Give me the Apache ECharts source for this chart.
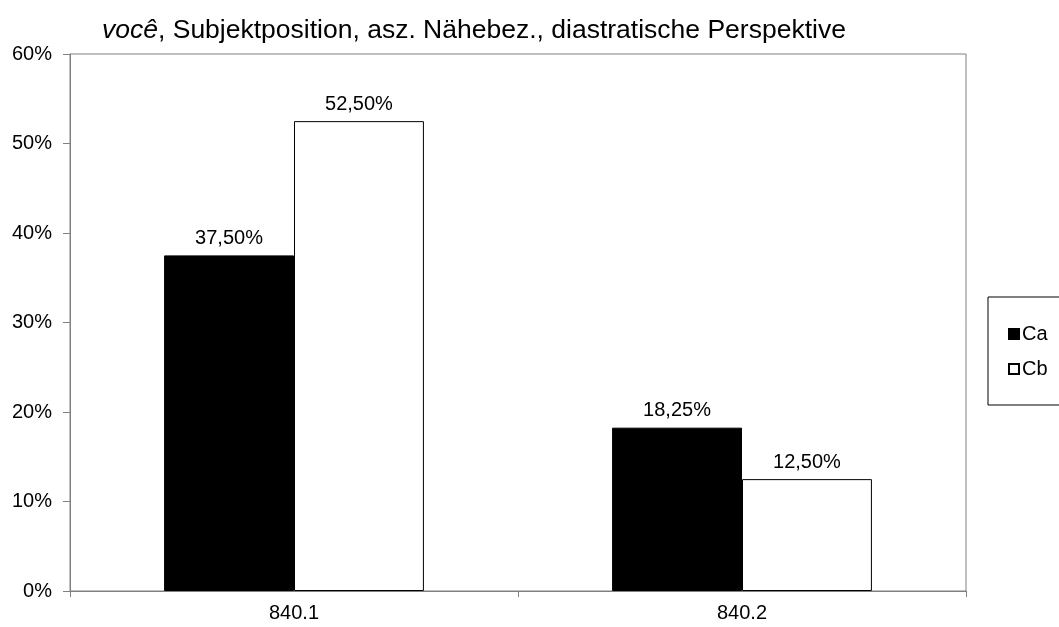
<!DOCTYPE html>
<html>
<head>
<meta charset="utf-8">
<script src="https://cdn.jsdelivr.net/npm/echarts@6/dist/echarts.min.js"></script>
<style>
  html, body { margin: 0; padding: 0; background: #fff; }
  #chart { width: 1059px; height: 627px; }
</style>
</head>
<body>
<div id="chart"></div>
<script>
// Categories and shares (in percent) per group
const categories = ['840.1', '840.2'];
const seriesNames = ['Ca', 'Cb'];
const valuesCa = [37.5, 18.25];
const valuesCb = [52.5, 12.5];
const yTicks = [0, 10, 20, 30, 40, 50, 60];

const FONT = 'Liberation Sans, Arial, sans-serif';
const fmtPct = v => v.toFixed(2).replace('.', ',') + '%';

const chart = echarts.init(document.getElementById('chart'));

const labelStyle = {
  show: true,
  position: 'top',
  distance: 7,
  color: '#000',
  fontFamily: FONT,
  fontSize: 20,
  formatter: p => fmtPct(p.value)
};

chart.setOption({
  animation: false,
  backgroundColor: '#fff',
  title: {
    left: 97,
    top: 12,
    text: '{i|você}, Subjektposition, asz. Nähebez., diastratische Perspektive',
    textStyle: {
      fontFamily: FONT,
      fontSize: 26.5,
      fontWeight: 'normal',
      color: '#000',
      rich: {
        i: { fontFamily: FONT, fontSize: 26.5, fontStyle: 'italic', color: '#000' }
      }
    }
  },
  legend: {
    orient: 'vertical',
    left: 988,
    top: 297,
    padding: [27, 40, 26, 20],
    itemGap: 15,
    itemWidth: 10,
    itemHeight: 10,
    icon: 'rect',
    borderColor: '#000',
    borderWidth: 1,
    textStyle: { fontFamily: FONT, fontSize: 20, color: '#000', padding: [0, 0, 0, -2] },
    data: seriesNames
  },
  grid: {
    left: 70,
    right: 93,
    top: 54,
    bottom: 36,
    show: true,
    borderColor: '#808080',
    borderWidth: 1,
    containLabel: false
  },
  xAxis: {
    type: 'category',
    data: categories,
    axisLine: { lineStyle: { color: '#808080', width: 1 } },
    axisTick: { show: true, alignWithLabel: false, length: 6, lineStyle: { color: '#808080' } },
    axisLabel: { color: '#000', fontFamily: FONT, fontSize: 20, margin: 12 }
  },
  yAxis: {
    type: 'value',
    min: yTicks[0],
    max: yTicks[yTicks.length - 1],
    interval: 10,
    axisLine: { show: true, lineStyle: { color: '#808080', width: 1 } },
    axisTick: { show: true, length: 7, lineStyle: { color: '#808080' } },
    splitLine: { show: false },
    axisLabel: { color: '#000', fontFamily: FONT, fontSize: 20, margin: 18, formatter: v => v + '%' }
  },
  series: [
    {
      name: seriesNames[0],
      type: 'bar',
      data: valuesCa,
      barGap: '0%',
      barCategoryGap: '42%',
      itemStyle: { color: '#000', borderColor: '#000', borderWidth: 1 },
      label: labelStyle
    },
    {
      name: seriesNames[1],
      type: 'bar',
      data: valuesCb,
      itemStyle: { color: '#fff', borderColor: '#000', borderWidth: 1 },
      label: labelStyle
    }
  ]
});
</script>
</body>
</html>
